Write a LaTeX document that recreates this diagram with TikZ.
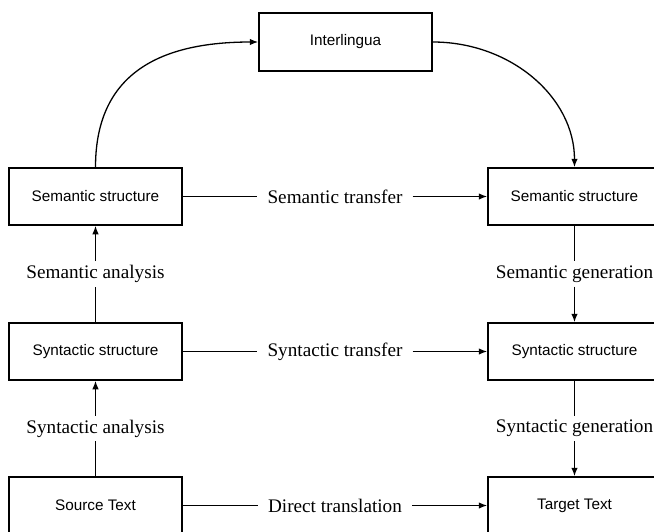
\documentclass[tikz,border=0pt]{standalone}
\usepackage{fontspec}
\setsansfont{Liberation Sans}
\setmainfont{Liberation Serif}
\usetikzlibrary{arrows.meta,calc}
\begin{document}
\begin{tikzpicture}[x=1pt,y=1pt,
  box/.style={draw,line width=1.5pt,minimum width=173pt,minimum height=57pt,inner sep=0pt,font=\sffamily\fontsize{15.3}{18}\selectfont},
  lbl/.style={inner xsep=10pt,inner ysep=4pt,font=\rmfamily\fontsize{19.2}{23}\selectfont},
  conn/.style={line width=1.3pt},
  arr/.style={conn,-{Latex[length=8.5pt,width=6.5pt]}}]
\useasboundingbox (0,0) rectangle (654,-531);
\clip (0,0) rectangle (654,-531);
\node[box,minimum height=58pt] (inter) at (345.5,-42) {Interlingua};
\node[box] (lsem) at (95.5,-196.5) {Semantic structure};
\node[box] (lsyn) at (95.5,-351.5) {Syntactic structure};
\node[box] (lsrc) at (95.5,-505.5) {Source Text};
\node[box] (rsem) at (574.5,-196.5) {Semantic structure};
\node[box] (rsyn) at (574.5,-351.5) {Syntactic structure};
\node[box] (rtgt) at (574.5,-505.5) {Target Text};
% horizontal labels
\node[lbl] (semtr) at ($(lsem.east)!0.5!(rsem.west)$) {Semantic transfer};
\node[lbl] (syntr) at ($(lsyn.east)!0.5!(rsyn.west)$) {Syntactic transfer};
\node[lbl] (dirtr) at ($(lsrc.east)!0.5!(rtgt.west)$) {Direct translation};
\draw[conn] (lsem.east) -- (semtr.west);
\draw[arr] (semtr.east) -- (rsem.west);
\draw[conn] (lsyn.east) -- (syntr.west);
\draw[arr] (syntr.east) -- (rsyn.west);
\draw[conn] (lsrc.east) -- (dirtr.west);
\draw[arr] (dirtr.east) -- (rtgt.west);
% vertical labels
\node[lbl] (seman) at ($(lsem.south)!0.5!(lsyn.north)$) {Semantic analysis};
\node[lbl] (synan) at ($(lsyn.south)!0.5!(lsrc.north)$) {Syntactic analysis};
\node[lbl] (semgen) at ($(rsem.south)!0.5!(rsyn.north)$) {Semantic generation};
\node[lbl] (syngen) at ($(rsyn.south)!0.5!(rtgt.north)$) {Syntactic generation};
\draw[conn] (lsyn.north) -- (seman.south);
\draw[arr] (seman.north) -- (lsem.south);
\draw[conn] (lsrc.north) -- (synan.south);
\draw[arr] (synan.north) -- (lsyn.south);
\draw[conn] (rsem.south) -- (semgen.north);
\draw[arr] (semgen.south) -- (rsyn.north);
\draw[conn] (rsyn.south) -- (syngen.north);
\draw[arr] (syngen.south) -- (rtgt.north);
% curves
\draw[arr] (lsem.north) .. controls +(0,85) and +(-110,0) .. (inter.west);
\draw[arr] (inter.east) .. controls +(78,0) and +(0,70) .. (rsem.north);
\end{tikzpicture}
\end{document}
